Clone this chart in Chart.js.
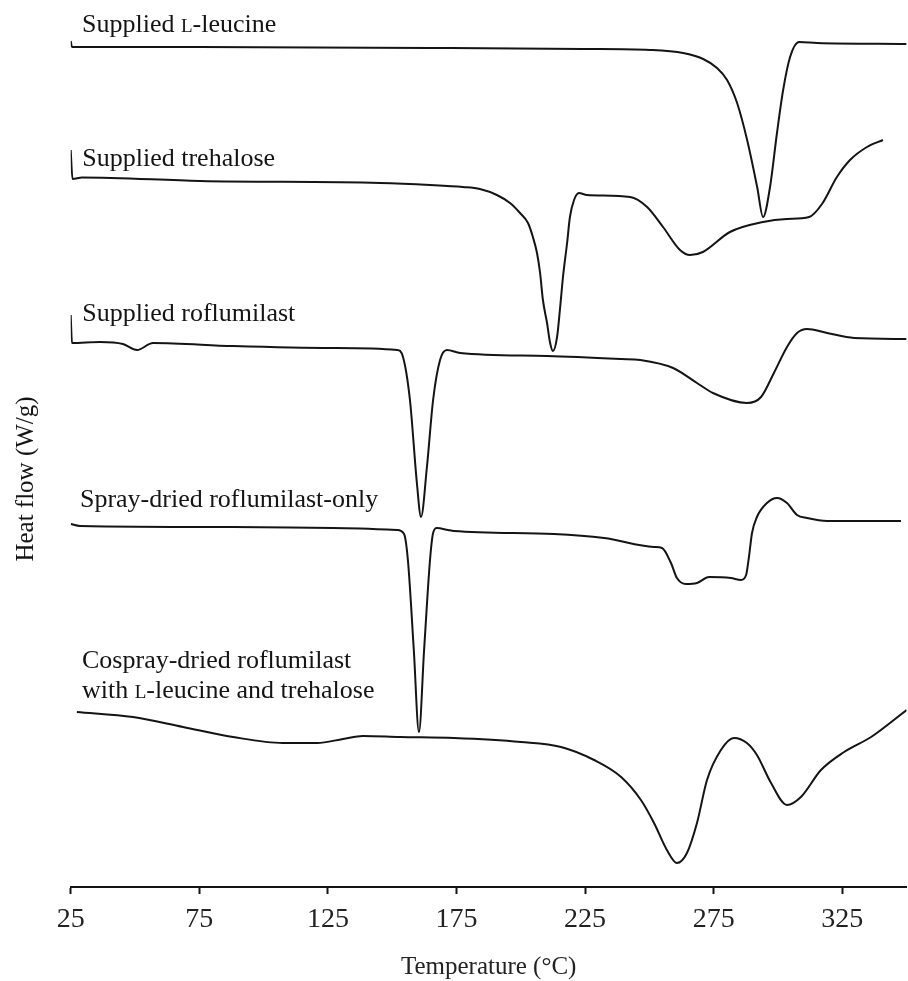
<!DOCTYPE html>
<html>
<head>
<meta charset="utf-8">
<script src="https://cdn.jsdelivr.net/npm/chart.js@4.4.1/dist/chart.umd.min.js"></script>
<style>
  html, body { margin: 0; padding: 0; background: #fff; }
</style>
</head>
<body>
<canvas id="dscChart" width="908" height="981"></canvas>
<script>
// x axis ticks (°C)
const tickTemps = [25, 75, 125, 175, 225, 275, 325];

// heat flow, stacked curves (arbitrary offset units)
// Supplied L-leucine
const leuT  = [25, 25.5, 75.3, 172.5, 224.2, 250.2, 263.1, 270.9, 276.3, 280.2, 284.1, 288.0, 291.9, 294.2, 296.9, 299.6, 302.0, 304.7, 308.2, 315.2, 350];
const leuHF = [84.6, 84.0, 84.0, 83.9, 83.8, 83.7, 83.4, 82.8, 81.9, 80.7, 78.4, 74.7, 70.0, 67.0, 70.0, 75.4, 79.7, 83.0, 84.5, 84.4, 84.3];

// Supplied trehalose
const treT  = [25, 25.7, 29.4, 75.3, 145.3, 164.7, 177.5, 184.1, 190.7, 195.8, 199.7, 202.8, 204.7, 206.3, 207.5, 208.6, 210.2, 211.4, 212.5, 214.1, 215.2, 216.4, 218.0, 219.1, 220.7, 222.6, 225.7, 242.5, 249.1, 255.3, 261.9, 265.8, 270.8, 281.3, 294.2, 303.5, 312.1, 317.1, 322.9, 328.0, 334.6, 340.8];
const treHF = [73.7, 70.8, 70.95, 70.6, 70.4, 70.2, 70.0, 69.8, 69.2, 68.4, 67.4, 66.4, 65.0, 63.4, 61.4, 58.7, 56.4, 54.4, 53.6, 55.0, 57.7, 61.0, 64.4, 67.0, 68.7, 69.4, 69.2, 69.0, 68.0, 66.0, 63.7, 63.2, 63.5, 65.5, 66.5, 66.8, 67.0, 68.3, 71.0, 72.7, 74.0, 74.7];

// Supplied roflumilast
const rofT  = [25, 25.5, 36.4, 45.3, 50.8, 57.0, 88.1, 127.0, 151.9, 154.2, 156.9, 159.6, 161.2, 163.5, 165.9, 168.6, 171.3, 176.4, 210.2, 239.0, 246.4, 259.2, 268.5, 274.7, 287.9, 293.4, 298.4, 303.5, 307.4, 311.3, 319.1, 329.6, 350];
const rofHF = [57.2, 54.4, 54.5, 54.3, 53.7, 54.4, 54.1, 53.9, 53.7, 53.0, 48.7, 40.4, 37.0, 42.0, 48.7, 52.7, 53.7, 53.4, 53.1, 52.8, 52.7, 51.9, 50.4, 49.4, 48.4, 49.0, 51.4, 54.0, 55.4, 55.8, 55.4, 54.9, 54.8];

// Spray-dried roflumilast-only
const sprT  = [25, 28.6, 88.1, 127.0, 151.9, 154.6, 156.1, 158.4, 160.4, 162.4, 164.7, 165.9, 167.4, 171.7, 174.0, 212.9, 232.4, 251.8, 254.9, 258.4, 260.7, 264.2, 268.5, 273.2, 281.7, 285.6, 287.6, 288.7, 289.9, 291.8, 295.7, 299.6, 303.5, 307.4, 311.3, 319.1, 347.8];
const sprHF = [36.3, 36.1, 36.0, 35.9, 35.7, 35.3, 32.7, 23.7, 15.5, 23.7, 32.7, 35.4, 35.9, 35.7, 35.6, 35.3, 34.9, 34.0, 33.9, 32.4, 30.9, 30.3, 30.4, 31.0, 30.9, 30.7, 31.2, 33.0, 35.4, 37.0, 38.4, 38.9, 38.4, 37.2, 36.9, 36.6, 36.6];

// Cospray-dried roflumilast with L-leucine and trehalose
const cosT  = [27.4, 49.2, 68.7, 88.1, 107.5, 120.8, 130.9, 138.6, 153.0, 174.0, 200.1, 215.6, 228.5, 239.0, 246.7, 251.8, 256.8, 260.7, 264.6, 268.5, 272.4, 277.8, 282.9, 287.9, 291.8, 297.3, 303.5, 308.9, 316.7, 325.7, 336.2, 350];
const cosHF = [17.5, 17.0, 16.0, 15.0, 14.4, 14.4, 14.8, 15.1, 15.0, 14.9, 14.5, 14.0, 12.7, 11.0, 8.7, 6.4, 3.7, 2.4, 3.4, 6.4, 10.7, 13.7, 14.9, 14.4, 13.2, 10.4, 8.2, 9.0, 11.7, 13.5, 15.0, 17.7];

// curve names; [text, smallCaps]
const curveNames = [
  [[['Supplied ', 0], ['L', 1], ['-leucine', 0]]],
  [[['Supplied trehalose', 0]]],
  [[['Supplied roflumilast', 0]]],
  [[['Spray-dried roflumilast-only', 0]]],
  [[['Cospray-dried roflumilast', 0]], [['with ', 0], ['L', 1], ['-leucine and trehalose', 0]]]
];
// where each name sits (°C, heat flow units)
const nameAnchors = [[29.4, 85.5], [29.5, 72.1], [29.5, 56.6], [28.6, 38.0], [29.4, 21.9]];

const serif = '"Liberation Serif", "Times New Roman", serif';
const ink = '#141414';

const toPoints = (ts, hs) => ts.map((t, i) => ({ x: t, y: hs[i] }));
const curve = (ts, hs) => ({
  data: toPoints(ts, hs),
  borderColor: ink,
  borderWidth: 2,
  pointRadius: 0,
  cubicInterpolationMode: 'monotone',
  fill: false
});

const annotate = {
  id: 'annotate',
  afterDraw(chart) {
    const { ctx, scales: { x, y }, chartArea } = chart;
    ctx.save();
    ctx.fillStyle = ink;
    ctx.textBaseline = 'alphabetic';
    curveNames.forEach((lines, k) => {
      lines.forEach((parts, i) => {
        let px = x.getPixelForValue(nameAnchors[k][0]);
        const py = y.getPixelForValue(nameAnchors[k][1] - i * 3);
        parts.forEach(([txt, small]) => {
          ctx.font = (small ? 19 : 26) + 'px ' + serif;
          ctx.fillText(txt, px, py);
          px += ctx.measureText(txt).width;
        });
      });
    });
    // y axis title, sits a little below the middle of the plot
    ctx.translate(26, (chartArea.top + chartArea.bottom) / 2 + 32);
    ctx.rotate(-Math.PI / 2);
    ctx.font = '25px ' + serif;
    ctx.textAlign = 'center';
    ctx.textBaseline = 'middle';
    ctx.fillText('Heat flow (W/g)', 0, 0);
    ctx.restore();
  }
};

new Chart(document.getElementById('dscChart').getContext('2d'), {
  type: 'line',
  data: {
    datasets: [
      curve(leuT, leuHF),
      curve(treT, treHF),
      curve(rofT, rofHF),
      curve(sprT, sprHF),
      curve(cosT, cosHF)
    ]
  },
  options: {
    responsive: false,
    animation: false,
    events: [],
    layout: { padding: { left: 70.7, right: 1.4, top: 7, bottom: 0 } },
    plugins: { legend: { display: false }, tooltip: { enabled: false } },
    scales: {
      x: {
        type: 'linear',
        min: 25,
        max: 350,
        afterBuildTicks: (scale) => { scale.ticks = tickTemps.map(v => ({ value: v })); },
        border: { display: true, color: ink, width: 2 },
        grid: { drawOnChartArea: false, drawTicks: true, tickLength: 7, tickWidth: 2, color: ink },
        ticks: {
          autoSkip: false,
          maxRotation: 0,
          padding: 9,
          color: '#222',
          font: { family: serif, size: 28 }
        },
        title: {
          display: true,
          text: 'Temperature (°C)',
          color: '#222',
          font: { family: serif, size: 25, lineHeight: 1 },
          padding: { top: 8.9, bottom: 1.5 }
        }
      },
      y: {
        display: false,
        min: 0,
        max: 88
      }
    }
  },
  plugins: [annotate]
});
</script>
</body>
</html>
